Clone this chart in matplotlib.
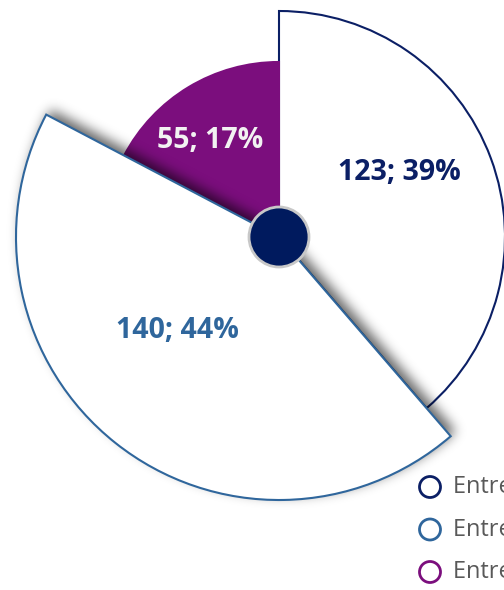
import numpy as np
import matplotlib
matplotlib.use("Agg")
import matplotlib.pyplot as plt
from matplotlib.patches import Wedge, Circle

# datos
valores = [123, 140, 55]
porcentajes = [39, 44, 17]
categorias = ["Entre 0 y 5 años", "Entre 6 y 10 años", "Entre 11 y 20 años"]

# estilo
colores_borde = ["#0b1f65", "#2f669c", "#7b0e7d"]
colores_relleno = ["white", "white", "#7b0e7d"]
colores_texto = ["#0b1f65", "#2f669c", "#f2f2f2"]
radios = [226, 263, 175]
pos_etiquetas = [(399, 417), (177, 260), (210, 449)]
centro = (279, 353)
W, H = 504, 590

fig = plt.figure(figsize=(W / 100, H / 100), dpi=100)
ax = fig.add_axes([0, 0, 1, 1])
ax.set_xlim(0, W)
ax.set_ylim(0, H)
ax.axis("off")

total = sum(valores)
angulos = []
inicio = 90.0
for v in valores:
    span = v / total * 360
    angulos.append((inicio - span, inicio))
    inicio -= span

def dibujar_sector(i, z):
    t1, t2 = angulos[i]
    w = Wedge(centro, radios[i], t1, t2, facecolor=colores_relleno[i],
              edgecolor=colores_borde[i], lw=1.5, zorder=z)
    ax.add_patch(w)

dibujar_sector(0, 1)
dibujar_sector(2, 1)

# sombra difusa del sector 2
xs = np.arange(W) + 0.5
ys = np.arange(H) + 0.5
X, Y = np.meshgrid(xs, ys)
dx, dy = 5, 5
rx = X - (centro[0] + dx)
ry = Y - (centro[1] + dy)
r = np.hypot(rx, ry)
a = np.degrees(np.arctan2(ry, rx))
t1, t2 = angulos[1]
dentro = (((a - t1) % 360) <= (t2 - t1)) & (r <= radios[1])
mascara = dentro.astype(float)
sigma = 6
k = np.arange(-3 * sigma, 3 * sigma + 1)
ker = np.exp(-k ** 2 / (2 * sigma ** 2))
ker /= ker.sum()
mascara = np.apply_along_axis(lambda m: np.convolve(m, ker, mode="same"), 0, mascara)
mascara = np.apply_along_axis(lambda m: np.convolve(m, ker, mode="same"), 1, mascara)
img = np.zeros((H, W, 4))
img[..., 3] = mascara * 0.6
ax.imshow(img, extent=(0, W, 0, H), origin="lower", zorder=2, interpolation="bilinear")
ax.set_xlim(0, W)
ax.set_ylim(0, H)

dibujar_sector(1, 3)

# círculo central
ax.add_patch(Circle(centro, 30, facecolor="#001a5e", edgecolor="#c8c8c8", lw=2, zorder=5))

for i in range(len(valores)):
    ax.text(pos_etiquetas[i][0], pos_etiquetas[i][1], f"{valores[i]}; {porcentajes[i]}%",
            color=colores_texto[i], fontsize=20.5, fontweight="bold", family="Open Sans",
            ha="center", va="center", zorder=6)

# leyenda
for i, cat in enumerate(categorias):
    yl = H - 487 - i * 42.5
    ax.add_patch(Circle((430, yl), 10.5, facecolor="white", edgecolor=colores_borde[i], lw=2, zorder=6))
    ax.text(453, yl, cat, color="#595959", fontsize=17, family="Open Sans",
            ha="left", va="center", zorder=6)

fig.savefig("out.png", dpi=100)
